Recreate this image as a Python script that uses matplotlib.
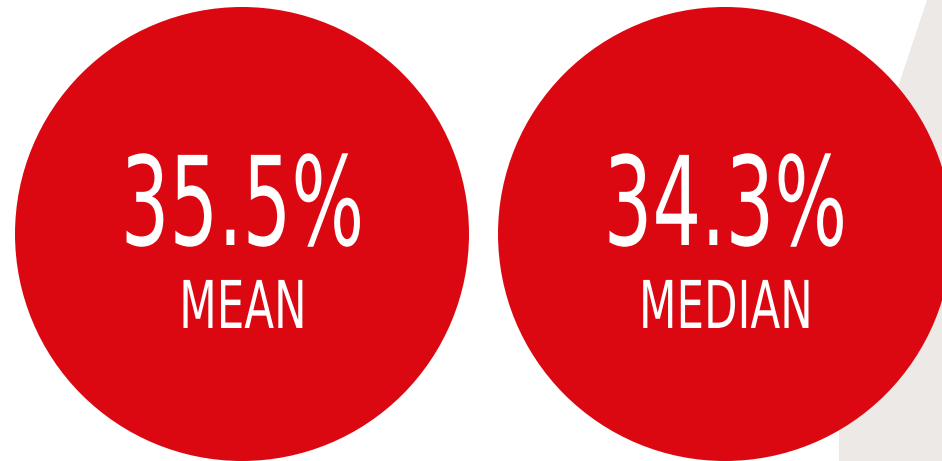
import matplotlib
matplotlib.use("Agg")
import matplotlib.pyplot as plt
from matplotlib.patches import Circle, Polygon
from matplotlib.patheffects import AbstractPathEffect
from matplotlib.transforms import Affine2D

# Summary figures shown in the two discs
values = [35.5, 34.3]
labels = ["MEAN", "MEDIAN"]

RED = "#DB0812"
GREY = "#ECE9E6"


class Squeeze(AbstractPathEffect):
    """Narrow the glyphs horizontally around their own centre (condensed look)."""

    def __init__(self, sx):
        super().__init__()
        self.sx = sx

    def draw_path(self, renderer, gc, tpath, affine, rgbFace=None):
        ext = tpath.get_extents(affine)
        cx = (ext.x0 + ext.x1) / 2
        squeeze = Affine2D().translate(-cx, 0).scale(self.sx, 1).translate(cx, 0)
        renderer.draw_path(gc, tpath, affine + squeeze, rgbFace)


W, H = 942, 461
fig = plt.figure(figsize=(W / 100, H / 100), dpi=100)
ax = fig.add_axes([0, 0, 1, 1])
ax.set_xlim(0, W)
ax.set_ylim(H, 0)
ax.set_aspect("equal")
ax.axis("off")

# grey backdrop band on the right
ax.add_patch(Polygon([(927, 0), (839, 264), (839, H), (W, H), (W, 0)],
                     closed=True, facecolor=GREY, edgecolor="none", zorder=0))

radius = 227
for i, (val, lab) in enumerate(zip(values, labels)):
    cx = 242 + i * 483
    cy = 234
    ax.add_patch(Circle((cx, cy), radius, facecolor=RED, edgecolor="none", zorder=1))
    ax.text(cx, 245, f"{val:.1f}%", color="white", fontsize=89,
            family="DejaVu Sans", ha="center", va="baseline", zorder=2,
            path_effects=[Squeeze(0.62)])
    ax.text(cx + 1, 328, lab, color="white", fontsize=47.5,
            family="DejaVu Sans", ha="center", va="baseline", zorder=2,
            path_effects=[Squeeze(0.66)])

fig.savefig("out.png", dpi=100)
